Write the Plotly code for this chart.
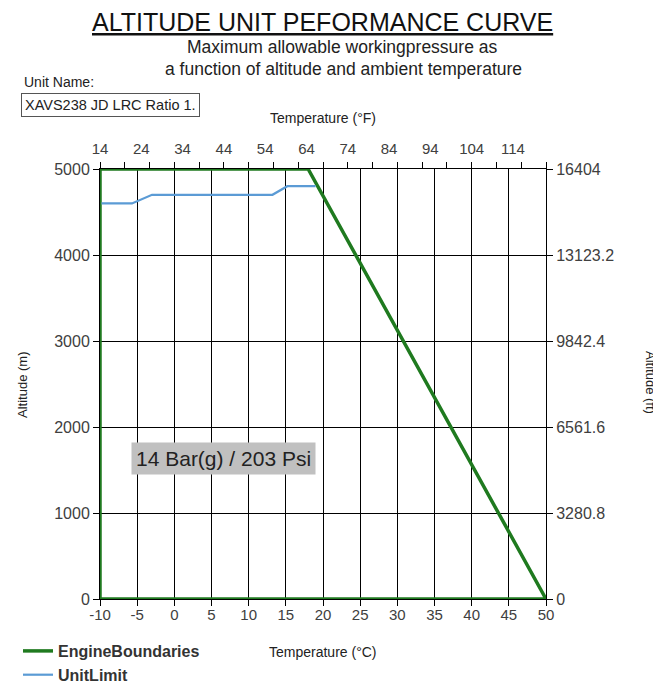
import plotly.graph_objects as go

# ---- data ----
engine_temp_c = [-10, -10, 18, 50, -10]
engine_alt_m = [0, 5000, 5000, 0, 0]

unit_temp_c = [-9.8, -5.7, -3.0, 13.2, 15.2, 19.0]
unit_alt_m = [4600, 4600, 4700, 4700, 4800, 4800]

c_ticks = list(range(-10, 51, 5))
c_tick_text = [str(v) for v in c_ticks]
f_ticks = list(range(14, 115, 10))
m_ticks = [0, 1000, 2000, 3000, 4000, 5000]
ft_ticks = [0, 3280.8, 6561.6, 9842.4, 13123.2, 16404]
ft_tick_text = ["0", "3280.8", "6561.6", "9842.4", "13123.2", "16404"]

FONT = "Liberation Sans, Arial, sans-serif"
GREEN = "#1f7a1f"
BLUE = "#5b9bd5"

# page body adds an 8px offset; plot area in screen pixels: x 100..546, y 169..599
OFF = 8
W, H = 661, 687
PL, PT, PW, PH = 100, 169, 446, 430
L, T = PL - OFF, PT - OFF
R, B = W - L - PW, H - T - PH


def px(x):
    return (x - PL) / PW


def py(y):
    return (PT + PH - y) / PH


fig = go.Figure()
fig.add_trace(go.Scatter(
    x=engine_temp_c, y=engine_alt_m, mode="lines", name="<b>EngineBoundaries</b>",
    line=dict(color=GREEN, width=3.5), cliponaxis=False,
))
fig.add_trace(go.Scatter(
    x=unit_temp_c, y=unit_alt_m, mode="lines", name="<b>UnitLimit</b>",
    line=dict(color=BLUE, width=2.2), cliponaxis=False,
))
# secondary axes carrier (°F / ft)
fig.add_trace(go.Scatter(
    x=[c * 1.8 + 32 for c in (-10, 50)], y=[0, 16404], xaxis="x2", yaxis="y2",
    mode="lines", line=dict(color="rgba(0,0,0,0)"), showlegend=False, hoverinfo="skip",
))

tickfont = dict(family=FONT, size=16, color="#404040")
axis_common = dict(showline=True, linecolor="black", linewidth=1, ticks="outside",
                   ticklen=6, tickcolor="black", zeroline=False, automargin=False)

fig.update_layout(
    width=W, height=H,
    margin=dict(l=L, r=R, t=T, b=B, autoexpand=False),
    paper_bgcolor="white", plot_bgcolor="white",
    font=dict(family=FONT, color="#222"),
    xaxis=dict(range=[-10, 50], tickvals=c_ticks, ticktext=c_tick_text, showgrid=True,
               gridcolor="black", gridwidth=1, ticklabelstandoff=-4,
               tickfont=dict(family=FONT, size=15, color="#404040"), **axis_common),
    yaxis=dict(range=[0, 5000], tickvals=m_ticks, showgrid=True, gridcolor="black",
               gridwidth=1, tickfont=tickfont, **axis_common),
    xaxis2=dict(overlaying="x", side="top", range=[14, 122], tickvals=f_ticks,
                showline=True, linecolor="black", ticks="", showgrid=False, zeroline=False,
                automargin=False, ticklabelstandoff=8,
                minor=dict(ticks="outside", tick0=14, dtick=6, ticklen=6, tickcolor="black",
                           showgrid=False),
                tickfont=dict(family=FONT, size=15, color="#404040")),
    yaxis2=dict(overlaying="y", side="right", range=[0, 16404], tickvals=ft_ticks,
                ticktext=ft_tick_text, showgrid=False, tickfont=tickfont, **axis_common),
    legend=dict(x=px(18), y=py(634), xanchor="left", yanchor="top",
                font=dict(family=FONT, size=16, color="#333"),
                bgcolor="rgba(0,0,0,0)"),
    showlegend=True,
)

ann = [
    dict(text="ALTITUDE UNIT PEFORMANCE CURVE", x=px(322), y=py(22),
         font=dict(family=FONT, size=25, color="#111", lineposition="under")),
    dict(text="Maximum allowable workingpressure as", x=px(342), y=py(47),
         font=dict(family=FONT, size=17.5, color="#222")),
    dict(text="a function of altitude and ambient temperature", x=px(343), y=py(69),
         font=dict(family=FONT, size=17.5, color="#222")),
    dict(text="Unit Name:", x=px(22), y=py(82), xanchor="left",
         font=dict(family=FONT, size=14, color="#222")),
    dict(text="XAVS238 JD LRC Ratio 1.", x=px(21), y=py(105), xanchor="left",
         font=dict(family=FONT, size=14.5, color="#222"), bordercolor="#555", borderwidth=1,
         borderpad=3, bgcolor="white"),
    dict(text="Temperature (°F)", x=px(323), y=py(118),
         font=dict(family=FONT, size=14, color="#222")),
    dict(text="Temperature (°C)", x=px(323), y=py(652),
         font=dict(family=FONT, size=14, color="#222")),
    dict(text="Altitude (m)", x=px(22), y=py(385), textangle=-90,
         font=dict(family=FONT, size=13, color="#222")),
    dict(text="Altitude (ft)", x=px(651), y=py(382), textangle=90,
         font=dict(family=FONT, size=13, color="#222")),
]
for a in ann:
    a.update(xref="paper", yref="paper", showarrow=False)
    a.setdefault("xanchor", "center")
    a.setdefault("yanchor", "middle")
    fig.add_annotation(**a)

fig.add_annotation(text="14 Bar(g) / 203 Psi", x=6.55, y=1630, xref="x", yref="y",
                   showarrow=False, bgcolor="#c0c0c0", borderpad=4,
                   font=dict(family=FONT, size=21, color="#222"))

fig.write_html("out.html")
